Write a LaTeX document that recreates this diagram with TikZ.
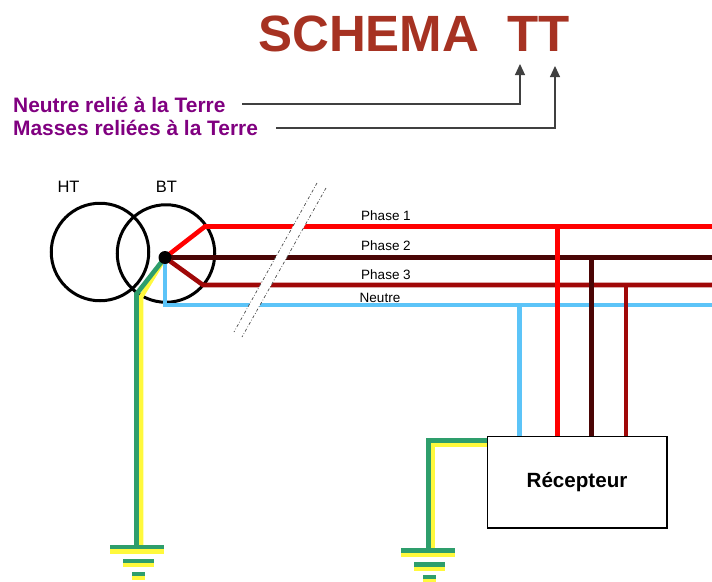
\documentclass[tikz,border=0pt]{standalone}
\usepackage{fontspec}
\setmainfont{Liberation Sans}
\usetikzlibrary{arrows.meta}
\definecolor{phaseA}{HTML}{FF0000}
\definecolor{phaseB}{HTML}{4A0505}
\definecolor{phaseC}{HTML}{A00808}
\definecolor{neutralc}{HTML}{5CC4F8}
\definecolor{earthg}{HTML}{2E9E6C}
\definecolor{earthy}{HTML}{FFF93C}
\definecolor{titlec}{HTML}{A63222}
\definecolor{purplec}{HTML}{800080}
\tikzset{
  x=1pt,y=-1pt,
  wire/.style={line width=4.6pt,line join=miter},
  winding/.style={circle,draw=black,line width=3pt,minimum size=97.5pt,inner sep=0pt},
  guide/.style={draw=black!75,line width=1.1pt,-{Triangle[length=11pt,width=10pt]}},
  lbl/.style={inner sep=0pt,font=\fontsize{13.5}{15}\selectfont},
  hvlbl/.style={inner sep=0pt,font=\fontsize{16.5}{18}\selectfont},
  purplelbl/.style={inner sep=0pt,anchor=west,text=purplec,font=\fontsize{20.9}{22}\selectfont\bfseries},
  gbar/.style={fill=earthg},
  ybar/.style={fill=earthy},
}
\newcommand{\earthbars}[2]{%
  \fill[ybar] (#1+0,#2+4) rectangle (#1+54,#2+8.5);
  \fill[gbar] (#1+0,#2+0) rectangle (#1+54,#2+4.4);
  \fill[ybar] (#1+13,#2+18) rectangle (#1+43.5,#2+22.3);
  \fill[gbar] (#1+13,#2+14) rectangle (#1+43.5,#2+18.3);
  \fill[ybar] (#1+22,#2+31) rectangle (#1+35,#2+35);
  \fill[gbar] (#1+22,#2+27) rectangle (#1+35,#2+31);
}
\begin{document}
\begin{tikzpicture}
\useasboundingbox (0,0) rectangle (712,581);
\node[inner sep=0pt,text=titlec,font=\fontsize{51}{54}\selectfont\bfseries] (title) at (414,33.5) {SCHEMA\ \ TT};
\node[purplelbl] (neutre) at (13,104.5) {Neutre relié à la Terre};
\node[purplelbl] (masses) at (13,127.5) {Masses reliées à la Terre};
\coordinate (n1) at (242,104);
\coordinate (n2) at (520,104);
\coordinate (n3) at (520,64);
\coordinate (m1) at (276,128);
\coordinate (m2) at (555,128);
\coordinate (m3) at (555,66);
\draw[guide] (n1) -- (n2) -- (n3);
\draw[guide] (m1) -- (m2) -- (m3);

\node[winding] (HT) at (100,252) {};
\node[winding] (BT) at (166,253.5) {};
\node[hvlbl] (htl) at (68.5,187) {HT};
\node[hvlbl] (btl) at (166.5,187) {BT};

\coordinate (star) at (165,257.5);
\coordinate (a1) at (205,226.5);
\coordinate (a2) at (712,226.5);
\coordinate (b2) at (712,257.5);
\coordinate (c1) at (203,285);
\coordinate (c2) at (712,285);
\coordinate (d1) at (165,305);
\coordinate (d2) at (712,305);
\coordinate (ga) at (136.5,294);
\coordinate (gb) at (136.5,546);
\coordinate (ya) at (141,297);
\coordinate (yb) at (141,546);

\draw[wire,earthy] (star) -- (ya) -- (yb);
\draw[wire,earthg] (star) -- (ga) -- (gb);
\draw[wire,neutralc] (star) -- (d1) -- (d2);
\draw[wire,phaseA] (star) -- (a1) -- (a2);
\draw[wire,phaseB] (star) -- (b2);
\draw[wire,phaseC] (star) -- (c1) -- (c2);
\node[circle,fill=black,minimum size=13pt,inner sep=0pt] (dot) at (star) {};

\node[draw=black,fill=white,line width=1pt,minimum width=179pt,minimum height=91pt,inner sep=0pt,font=\fontsize{20.6}{22}\selectfont\bfseries] (rec) at (577,482) {Récepteur};
\coordinate (rn) at (519.7,305);
\coordinate (ra) at (557.7,226.5);
\coordinate (rb) at (591.7,257.5);
\coordinate (rc) at (626,285);
\draw[wire,neutralc] (rn) -- (rn |- rec.north);
\draw[wire,phaseA] (ra) -- (ra |- rec.north);
\draw[wire,phaseB] (rb) -- (rb |- rec.north);
\draw[wire,phaseC] (rc) -- (rc |- rec.north);
\coordinate (p1) at (487,444.3);
\coordinate (p2) at (432.8,444.3);
\coordinate (p3) at (432.8,549);
\coordinate (q1) at (487,440.5);
\coordinate (q2) at (428.7,440.5);
\coordinate (q3) at (428.7,549);
\draw[wire,earthy] (p1) -- (p2) -- (p3);
\draw[wire,earthg] (q1) -- (q2) -- (q3);
\draw[draw=black,line width=1pt] (rec.south west) rectangle (rec.north east);

\earthbars{110}{545}
\earthbars{401}{548.3}

\coordinate (s1) at (317,183);
\coordinate (s2) at (234,332);
\coordinate (s3) at (242,337);
\coordinate (s4) at (326,188);
\fill[white] (s1) -- (s2) -- (s3) -- (s4) -- cycle;
\draw[black!70,line width=.7pt,dash dot] (s1) -- (s2);
\draw[black!70,line width=.7pt,dash dot] (s4) -- (s3);

\node[lbl] (p1l) at (386,215.5) {Phase 1};
\node[lbl] (p2l) at (386,245.5) {Phase 2};
\node[lbl] (p3l) at (386,275) {Phase 3};
\node[lbl] (nl) at (380,297.5) {Neutre};
\end{tikzpicture}
\end{document}
